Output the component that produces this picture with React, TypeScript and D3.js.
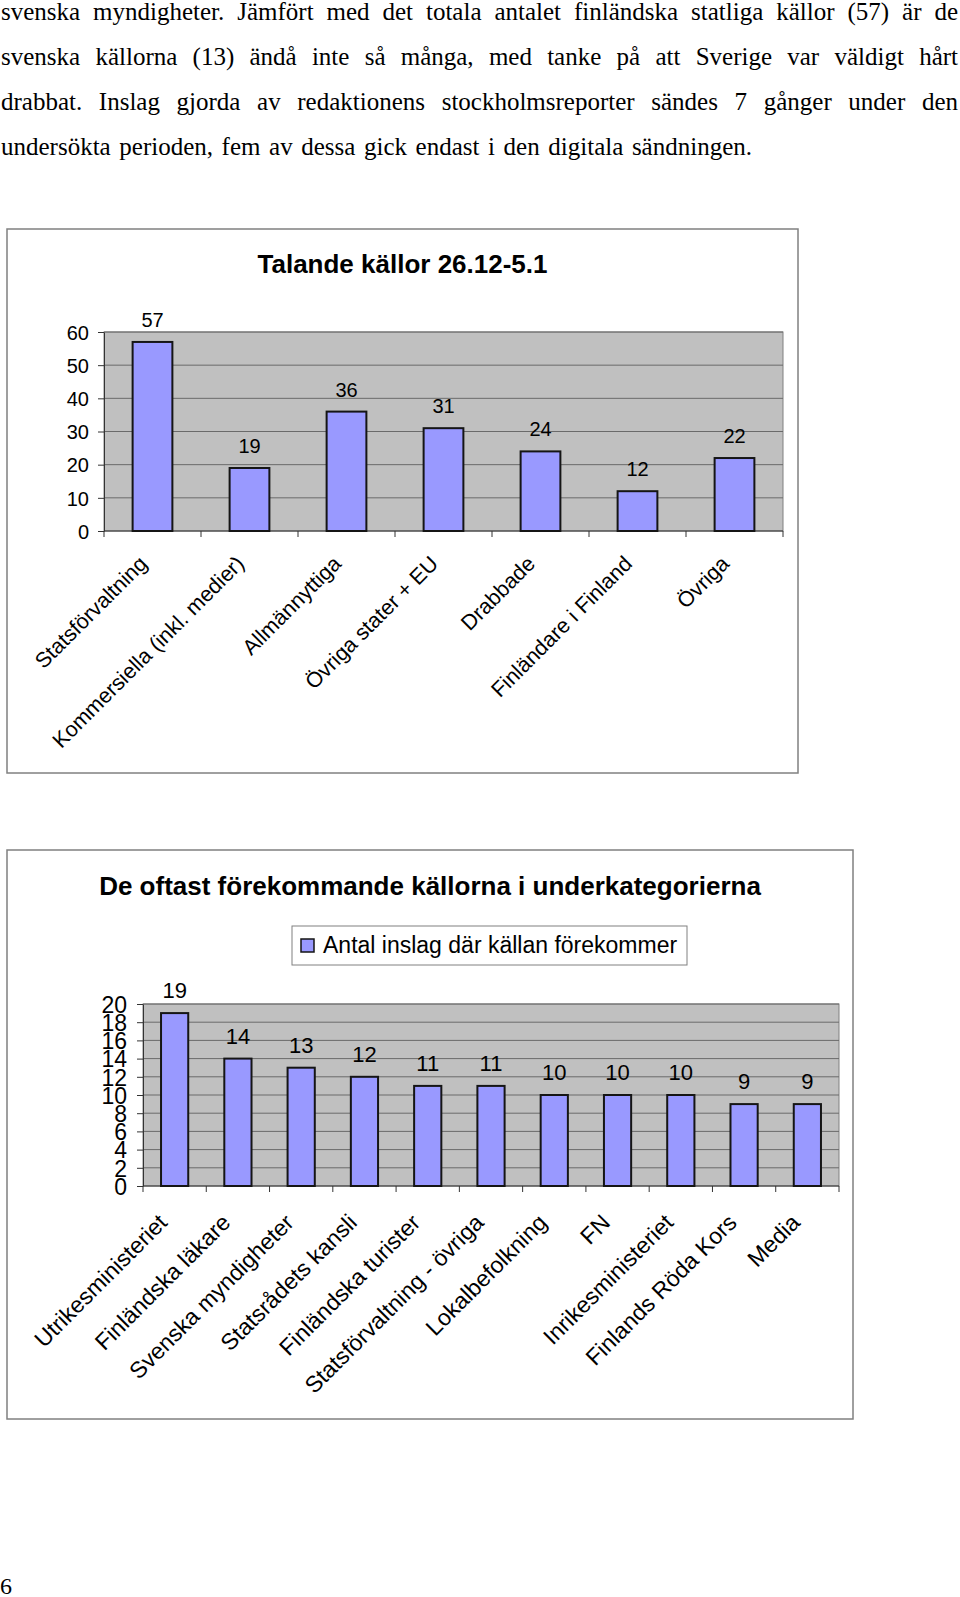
import React, { useEffect, useRef } from "react";
import * as d3 from "d3";

// page text above the charts (justified, Times-like)
const paragraphLines = [
  "svenska myndigheter. Jämfört med det totala antalet finländska statliga källor (57) är de",
  "svenska källorna (13) ändå inte så många, med tanke på att Sverige var väldigt hårt",
  "drabbat. Inslag gjorda av redaktionens stockholmsreporter sändes 7 gånger under den",
  "undersökta perioden, fem av dessa gick endast i den digitala sändningen.",
];
const pageNumber = "6";

// chart 1
const mainTitle = "Talande källor 26.12-5.1";
const mainCategories = [
  "Statsförvaltning",
  "Kommersiella (inkl. medier)",
  "Allmännyttiga",
  "Övriga stater + EU",
  "Drabbade",
  "Finländare i Finland",
  "Övriga",
];
const mainValues = [57, 19, 36, 31, 24, 12, 22];
const mainTicks = [0, 10, 20, 30, 40, 50, 60];

// chart 2
const subTitle = "De oftast förekommande källorna i underkategorierna";
const subSeries = "Antal inslag där källan förekommer";
const subCategories = [
  "Utrikesministeriet",
  "Finländska läkare",
  "Svenska myndigheter",
  "Statsrådets kansli",
  "Finländska turister",
  "Statsförvaltning - övriga",
  "Lokalbefolkning",
  "FN",
  "Inrikesministeriet",
  "Finlands Röda Kors",
  "Media",
];
const subValues = [19, 14, 13, 12, 11, 11, 10, 10, 10, 9, 9];
const subTicks = [0, 2, 4, 6, 8, 10, 12, 14, 16, 18, 20];

const W = 960;
const H = 1597;
const SANS = "'Liberation Sans', Arial, sans-serif";
const SERIF = "'Liberation Serif', 'Times New Roman', serif";
const BAR = "#9999ff";
const PLOT_BG = "#c0c0c0";
const GRID = "#6a6a6a";
const FRAME = "#808080";

function barChart(svg, o) {
  const g = svg.append("g");

  g.append("rect")
    .attr("x", o.box[0]).attr("y", o.box[1])
    .attr("width", o.box[2] - o.box[0]).attr("height", o.box[3] - o.box[1])
    .attr("fill", "#fff").attr("stroke", FRAME).attr("stroke-width", 1.5);

  g.append("text")
    .attr("x", (o.box[0] + o.box[2]) / 2).attr("y", o.titleY)
    .attr("text-anchor", "middle")
    .attr("font-family", SANS).attr("font-weight", "bold").attr("font-size", 26)
    .text(o.title);

  const x = d3.scaleBand()
    .domain(o.categories)
    .range([o.plot[0], o.plot[2]])
    .paddingInner(o.pad)
    .paddingOuter(o.pad / 2);

  const y = d3.scaleLinear()
    .domain([0, o.ticks[o.ticks.length - 1]])
    .range([o.plot[3], o.plot[1]]);

  g.append("rect")
    .attr("x", o.plot[0]).attr("y", o.plot[1])
    .attr("width", o.plot[2] - o.plot[0]).attr("height", o.plot[3] - o.plot[1])
    .attr("fill", PLOT_BG).attr("stroke", FRAME).attr("stroke-width", 1);

  g.selectAll(".grid")
    .data(o.ticks.slice(1))
    .enter().append("line")
    .attr("x1", o.plot[0]).attr("x2", o.plot[2])
    .attr("y1", d => y(d)).attr("y2", d => y(d))
    .attr("stroke", GRID).attr("stroke-width", 1);

  // y axis
  const ya = g.append("g")
    .attr("transform", `translate(${o.plot[0]},0)`)
    .call(d3.axisLeft(y).tickValues(o.ticks).tickSize(6).tickSizeOuter(0).tickPadding(o.tickPad));
  ya.select(".domain").attr("stroke", "#333");
  ya.selectAll(".tick line").attr("stroke", "#333");
  ya.selectAll(".tick text")
    .attr("font-family", SANS).attr("font-size", o.tickFont).attr("fill", "#000")
    .attr("dy", "0.36em");

  // x axis line + ticks at band boundaries
  const step = x.step();
  const bounds = d3.range(o.categories.length + 1).map(i => o.plot[0] + i * step);
  g.append("line")
    .attr("x1", o.plot[0]).attr("x2", o.plot[2])
    .attr("y1", o.plot[3]).attr("y2", o.plot[3])
    .attr("stroke", "#333");
  g.selectAll(".xtick")
    .data(bounds)
    .enter().append("line")
    .attr("x1", d => d).attr("x2", d => d)
    .attr("y1", o.plot[3]).attr("y2", o.plot[3] + 6)
    .attr("stroke", "#333");

  g.selectAll(".bar")
    .data(o.values)
    .enter().append("rect")
    .attr("x", (_, i) => x(o.categories[i]))
    .attr("y", d => y(d))
    .attr("width", x.bandwidth())
    .attr("height", d => y(0) - y(d))
    .attr("fill", BAR).attr("stroke", "#151515").attr("stroke-width", 2);

  g.selectAll(".val")
    .data(o.values)
    .enter().append("text")
    .attr("x", (_, i) => x(o.categories[i]) + x.bandwidth() / 2)
    .attr("y", d => y(d) - 15)
    .attr("text-anchor", "middle")
    .attr("font-family", SANS).attr("font-size", o.font)
    .text(d => d);

  g.selectAll(".cat")
    .data(o.categories)
    .enter().append("text")
    .attr("transform", d =>
      `translate(${x(d) + x.bandwidth() / 2 + o.labelDx},${o.plot[3] + o.labelDy}) rotate(-45)`)
    .attr("text-anchor", "end")
    .attr("font-family", SANS).attr("font-size", o.catFont)
    .text(d => d);

  if (o.legend) {
    const [lx0, ly0, lx1, ly1] = o.legend;
    g.append("rect")
      .attr("x", lx0).attr("y", ly0).attr("width", lx1 - lx0).attr("height", ly1 - ly0)
      .attr("fill", "#fff").attr("stroke", FRAME);
    g.append("rect")
      .attr("x", lx0 + 9).attr("y", ly0 + 13).attr("width", 13).attr("height", 13)
      .attr("fill", BAR).attr("stroke", "#151515").attr("stroke-width", 1.5);
    g.append("text")
      .attr("x", lx0 + 31).attr("y", ly0 + 27)
      .attr("font-family", SANS).attr("font-size", o.catFont)
      .text(o.series);
  }
}

export default function App() {
  const ref = useRef(null);

  useEffect(() => {
    const svg = d3.select(ref.current);
    svg.selectAll("*").remove();

    // paragraph, lines laid out word by word (justified, last line to its own width)
    const left = 1;
    const lineEnds = [958, 958, 958, 752];
    paragraphLines.forEach((line, li) => {
      const baseline = 20 + li * 45;
      const words = line.split(" ");
      const nodes = words.map(w =>
        svg.append("text")
          .attr("y", baseline)
          .attr("font-family", SERIF).attr("font-size", 25)
          .text(w));
      const widths = nodes.map(n => n.node().getComputedTextLength());
      const gap = (lineEnds[li] - left - d3.sum(widths)) / (words.length - 1);
      let cx = left;
      nodes.forEach((n, i) => {
        n.attr("x", cx);
        cx += widths[i] + gap;
      });
    });

    barChart(svg, {
      box: [7, 229, 798, 773],
      plot: [104, 332, 783, 531],
      title: mainTitle,
      titleY: 273,
      categories: mainCategories,
      values: mainValues,
      ticks: mainTicks,
      pad: 0.59,
      font: 20,
      tickFont: 20,
      catFont: 21.5,
      tickPad: 9,
      labelDx: -4,
      labelDy: 34,
    });

    barChart(svg, {
      box: [7, 850, 853, 1419],
      plot: [143, 1004, 839, 1186],
      title: subTitle,
      titleY: 895,
      categories: subCategories,
      values: subValues,
      ticks: subTicks,
      pad: 0.57,
      font: 22,
      tickFont: 23,
      catFont: 23,
      tickPad: 10,
      labelDx: -6,
      labelDy: 38,
      legend: [292, 926, 687, 965],
      series: subSeries,
    });

    svg.append("text")
      .attr("x", 0).attr("y", 1594)
      .attr("font-family", SERIF).attr("font-size", 24)
      .text(pageNumber);
  }, []);

  return (
    <svg
      ref={ref}
      width={W}
      height={H}
      style={{ position: "absolute", left: 0, top: 0, display: "block", background: "#fff" }}
    />
  );
}
